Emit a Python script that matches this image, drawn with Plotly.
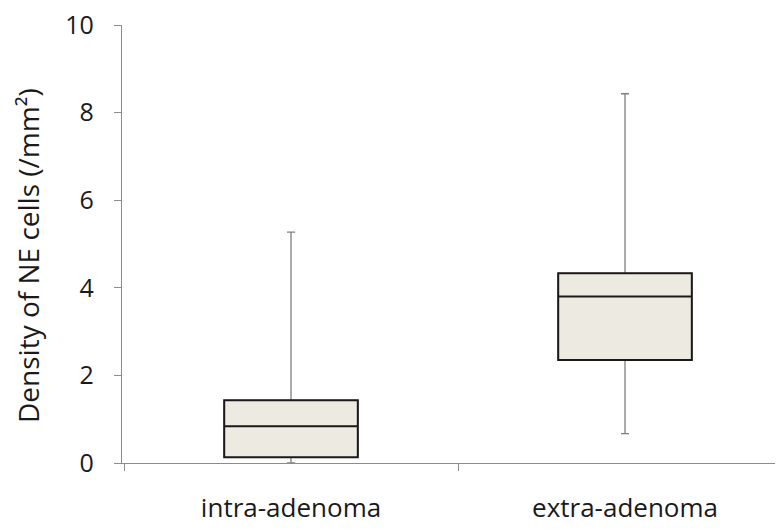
import plotly.graph_objects as go

categories = ["intra-adenoma", "extra-adenoma"]
lower_whisker = [0.0, 0.67]
q1_values = [0.13, 2.35]
median_values = [0.84, 3.80]
q3_values = [1.43, 4.33]
upper_whisker = [5.27, 8.43]
y_ticks = [0, 2, 4, 6, 8, 10]
y_title = "Density of NE cells (/mm²)"

FONT = "Open Sans, Lato, sans-serif"
fig = go.Figure()

# whiskers (gray)
fig.add_trace(go.Box(
    x=categories, q1=q1_values, median=median_values, q3=q3_values,
    lowerfence=lower_whisker, upperfence=upper_whisker,
    width=0.4, whiskerwidth=0.06, line=dict(color="#7f7f7f", width=1.3),
    fillcolor="#EDEBE1", showlegend=False, hoverinfo="skip",
))
# box body (black outline)
fig.add_trace(go.Box(
    x=categories, q1=q1_values, median=median_values, q3=q3_values,
    lowerfence=q1_values, upperfence=q3_values,
    width=0.4, whiskerwidth=0, line=dict(color="#1a1a1a", width=2),
    fillcolor="#EDEBE1", showlegend=False,
))

fig.add_annotation(
    text=y_title, textangle=-90, xref="paper", yref="paper",
    x=-0.142, y=0.473, xanchor="center", yanchor="middle", showarrow=False,
    font=dict(size=28, family=FONT, color="#1a1a1a"),
)

fig.update_layout(
    width=783, height=529,
    margin=dict(l=114, r=8, t=17, b=73.5, autoexpand=False),
    paper_bgcolor="white", plot_bgcolor="white",
    boxmode="overlay",
    font=dict(family=FONT, color="#1a1a1a"),
    xaxis=dict(
        type="category", range=[-0.506, 1.473], automargin=False,
        showline=True, linecolor="#8c8c8c", linewidth=1.3,
        ticks="outside", tickson="boundaries", ticklen=7, tickcolor="#8c8c8c",
        tickfont=dict(size=26, family=FONT, color="#1a1a1a"),
        ticklabelstandoff=22, showgrid=False, zeroline=False,
        ticklabeloverflow="allow",
    ),
    yaxis=dict(
        range=[0, 10], tickvals=y_ticks, automargin=False,
        showline=True, linecolor="#8c8c8c", linewidth=1.3,
        ticks="outside", ticklen=7, tickcolor="#8c8c8c",
        tickfont=dict(size=25, family=FONT, color="#1a1a1a"),
        ticklabelstandoff=15, showgrid=False, zeroline=False,
        ticklabeloverflow="allow",
    ),
)

fig.write_html("out.html")
